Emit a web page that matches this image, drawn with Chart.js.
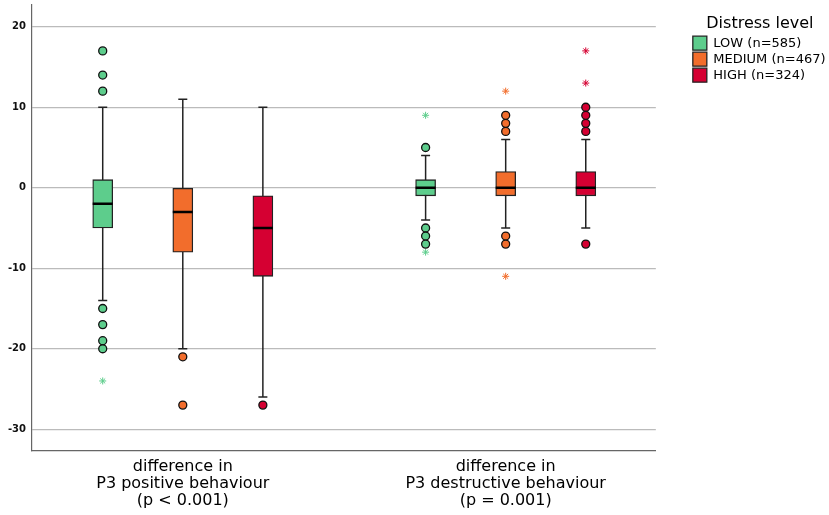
<!DOCTYPE html>
<html>
<head>
<meta charset="utf-8">
<title>Distress level box plot</title>
<script src="https://cdn.jsdelivr.net/npm/chart.js@4.4.0/dist/chart.umd.min.js"></script>
<style>
body { margin: 0; background: #fff; }
#wrap { width: 829px; height: 515px; }
</style>
</head>
<body>
<div id="wrap"><canvas id="box-chart"></canvas></div>
<script type="text/javascript">
// categories and groups
var groupLabels = [
  ['difference in', 'P3 positive behaviour', '(p < 0.001)'],
  ['difference in', 'P3 destructive behaviour', '(p = 0.001)']
];
var levels = ['LOW (n=585)', 'MEDIUM (n=467)', 'HIGH (n=324)'];
var levelColors = ['#5dcd8c', '#f26d2c', '#d50032'];
var yTicks = [-30, -20, -10, 0, 10, 20];

// box statistics, [group][level]
var medians  = [[-2, -3, -5], [0, 0, 0]];
var q1s      = [[-5, -8, -11], [-1, -1, -1]];
var q3s      = [[1, 0, -1], [1, 2, 2]];
var whiskLow = [[-14, -20, -26], [-4, -5, -5]];
var whiskHigh = [[10, 11, 10], [4, 6, 6]];
// outliers (circles) and extremes (stars)
var outliers = [
  [[17, 14, 12, -15, -17, -19, -20], [-21, -27], [-27]],
  [[5, -5, -6, -7], [7, 8, 9, -6, -7], [7, 8, 9, 10, -7]]
];
var extremes = [
  [[-24], [], []],
  [[9, -8], [12, -11], [13, 17]]
];

// x position of each box: group centre +/- offset
function xPos(g, l) { return (g + 1) + (l - 1) * 0.248; }

function noPad(scale) {
  scale.paddingTop = 0;
  scale.paddingBottom = 0;
  scale.paddingLeft = 0;
  scale.paddingRight = 0;
}

var datasets = [];
var whiskerPts = [];
var capPts = [];
var medianPts = [];

for (var l = 0; l < levels.length; l++) {
  var boxes = [], outPts = [], extPts = [];
  for (var g = 0; g < groupLabels.length; g++) {
    var x = xPos(g, l);
    boxes.push({x: x, y: [q1s[g][l], q3s[g][l]]});
    whiskerPts.push({x: x, y: whiskLow[g][l]}, {x: x, y: whiskHigh[g][l]}, {x: x, y: null});
    capPts.push({x: x, y: whiskLow[g][l]}, {x: x, y: whiskHigh[g][l]});
    medianPts.push({x: x, y: medians[g][l]});
    for (var i = 0; i < outliers[g][l].length; i++) outPts.push({x: x, y: outliers[g][l][i]});
    for (var j = 0; j < extremes[g][l].length; j++) extPts.push({x: x, y: extremes[g][l][j]});
  }
  datasets.push({
    type: 'bar',
    label: levels[l],
    data: boxes,
    backgroundColor: levelColors[l],
    borderColor: '#222',
    borderWidth: 1.3,
    borderSkipped: false,
    barThickness: 20,
    grouped: false,
    order: 3
  });
  datasets.push({
    type: 'scatter',
    label: 'out' + l,
    data: outPts,
    pointStyle: 'circle',
    pointRadius: 4,
    pointBackgroundColor: levelColors[l],
    pointBorderColor: '#111',
    pointBorderWidth: 1.3,
    order: 0
  });
  datasets.push({
    type: 'scatter',
    label: 'ext' + l,
    data: extPts,
    pointStyle: 'star',
    pointRadius: 3.5,
    pointBorderColor: levelColors[l],
    pointBorderWidth: 1,
    order: 0
  });
}

datasets.push({
  type: 'line',
  label: 'whisker',
  data: whiskerPts,
  borderColor: '#222',
  borderWidth: 1.5,
  pointRadius: 0,
  spanGaps: false,
  order: 4
});
datasets.push({
  type: 'scatter',
  label: 'cap',
  data: capPts,
  pointStyle: 'line',
  pointRadius: 4.5,
  pointBorderColor: '#222',
  pointBorderWidth: 1.5,
  order: 1
});
datasets.push({
  type: 'scatter',
  label: 'median',
  data: medianPts,
  pointStyle: 'line',
  pointRadius: 10,
  pointBorderColor: '#000',
  pointBorderWidth: 2.5,
  order: 1
});

new Chart(document.getElementById('box-chart'), {
  type: 'scatter',
  data: { datasets: datasets },
  options: {
    responsive: true,
    maintainAspectRatio: false,
    animation: false,
    layout: { autoPadding: false, padding: { top: 5, right: 0, left: 0, bottom: 0 } },
    plugins: {
      tooltip: { enabled: false },
      legend: {
        position: 'right',
        align: 'start',
        title: {
          display: true,
          text: 'Distress level',
          color: '#000',
          font: { family: 'DejaVu Sans', size: 16 },
          padding: { top: 11, bottom: -1 }
        },
        labels: {
          filter: function(item) { return levels.indexOf(item.text) >= 0; },
          boxWidth: 14,
          boxHeight: 14,
          padding: 2,
          color: '#000',
          font: { family: 'DejaVu Sans', size: 13 }
        }
      }
    },
    scales: {
      x: {
        type: 'linear',
        min: 0.533,
        max: 2.465,
        offset: false,
        afterBuildTicks: function(scale) { scale.ticks = [{value: 1}, {value: 2}]; },
        afterFit: function(scale) { scale.height = 64; noPad(scale); },
        grid: { display: false, drawTicks: false },
        border: { color: '#666', width: 1.2 },
        ticks: {
          padding: 8,
          color: '#000',
          font: { family: 'DejaVu Sans', size: 16, lineHeight: 1.04 },
          callback: function(value, index) { return groupLabels[index]; }
        }
      },
      y: {
        min: -32.7,
        max: 22.7,
        afterBuildTicks: function(scale) {
          scale.ticks = yTicks.map(function(v) { return {value: v}; });
        },
        afterFit: function(scale) { scale.width = 32; noPad(scale); },
        grid: { color: '#bbb', lineWidth: 1.2, drawTicks: false },
        border: { color: '#666', width: 1.2 },
        ticks: {
          padding: 6,
          color: '#111',
          font: { family: 'DejaVu Sans', size: 10, weight: 'bold' }
        }
      },
      gap: {
        type: 'linear',
        position: 'right',
        display: true,
        grid: { display: false, drawTicks: false },
        border: { display: false },
        ticks: { display: false },
        afterFit: function(scale) { scale.width = 35; noPad(scale); }
      }
    }
  }
});
</script>
</body>
</html>
